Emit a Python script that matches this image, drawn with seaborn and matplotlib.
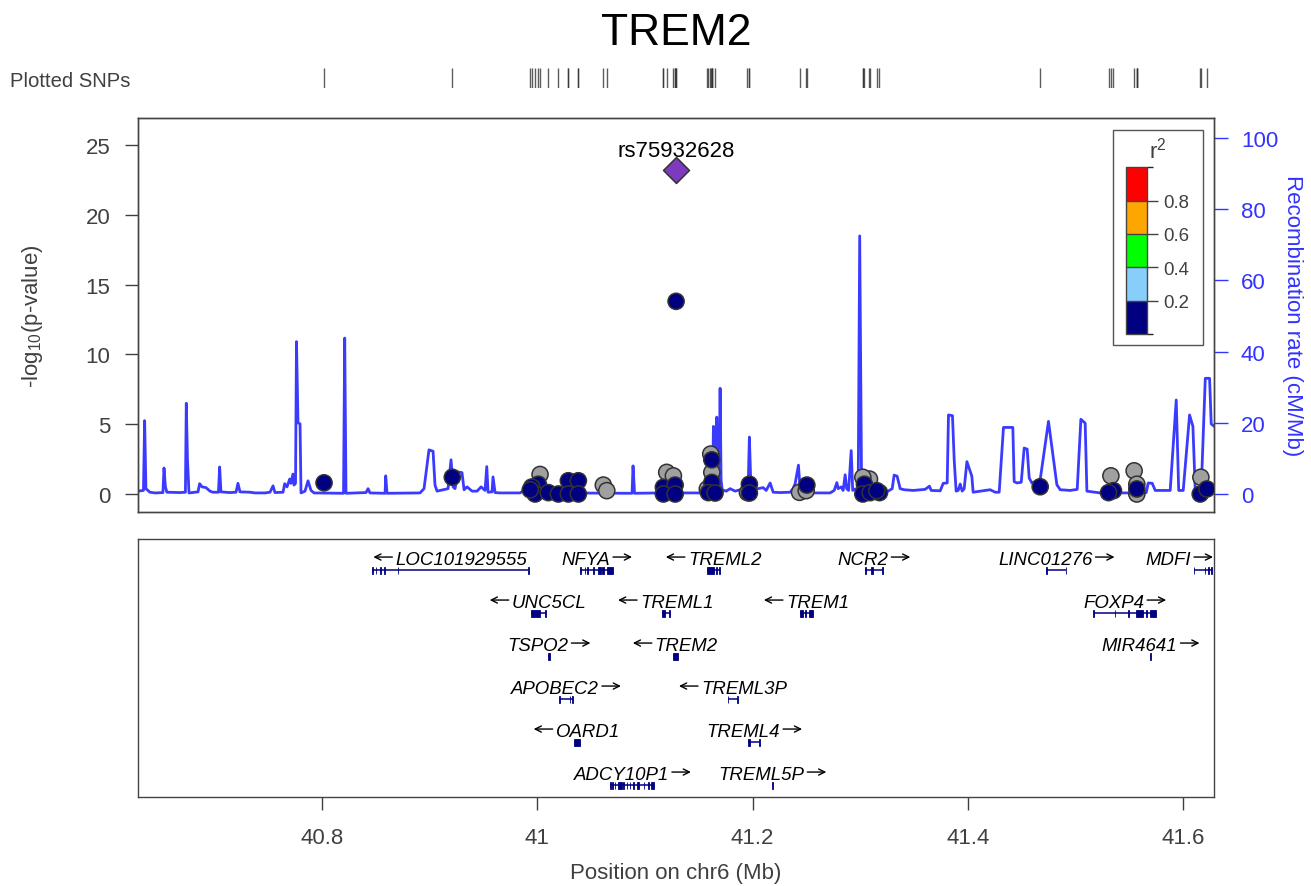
import numpy as np
import pandas as pd
import matplotlib
matplotlib.use("Agg")
import matplotlib.pyplot as plt
import seaborn as sns
from matplotlib.colors import ListedColormap, BoundaryNorm
from matplotlib.cm import ScalarMappable
from matplotlib.patches import Rectangle

# ---------------- data ----------------
title = "TREM2"
chrom = "chr6"
x_ticks = [40.8, 41.0, 41.2, 41.4, 41.6]
x_tick_labels = ["40.8", "41", "41.2", "41.4", "41.6"]
p_ticks = [0, 5, 10, 15, 20, 25]
recomb_ticks = [0, 20, 40, 60, 80, 100]

recomb_pos = [40.6290, 40.6318, 40.6341, 40.6352, 40.6364, 40.6383, 40.6401, 40.6448, 40.6522, 40.6532,
              40.6545, 40.6559, 40.6680, 40.6731, 40.6739, 40.6750, 40.6764, 40.6848, 40.6863, 40.6885,
              40.6922, 40.6959, 40.6987, 40.7038, 40.7049, 40.7061, 40.7145, 40.7201, 40.7219, 40.7238,
              40.7331, 40.7377, 40.7470, 40.7517, 40.7545, 40.7563, 40.7638, 40.7653, 40.7675, 40.7700,
              40.7712, 40.7730, 40.7740, 40.7754, 40.7763, 40.7777, 40.7796, 40.7805, 40.7842, 40.7870,
              40.7898, 40.7926, 40.8200, 40.8211, 40.8223, 40.8409, 40.8428, 40.8446, 40.8586, 40.8592,
              40.8604, 40.8911, 40.8948, 40.8976, 40.8994, 40.9032, 40.9050, 40.9069, 40.9171, 40.9199,
              40.9218, 40.9236, 40.9264, 40.9301, 40.9320, 40.9348, 40.9394, 40.9441, 40.9478, 40.9515,
              40.9531, 40.9543, 40.9580, 40.9589, 40.9608, 40.9654, 40.9840, 40.9905, 40.9933, 41.0147,
              41.0175, 41.0212, 41.0881, 41.0890, 41.0904, 41.1141, 41.1513, 41.1560, 41.1606, 41.1629,
              41.1637, 41.1648, 41.1662, 41.1668, 41.1676, 41.1690, 41.1699, 41.1708, 41.1718, 41.1755,
              41.1792, 41.1838, 41.1885, 41.1931, 41.1959, 41.1971, 41.1982, 41.1996, 41.2052, 41.2099,
              41.2127, 41.2164, 41.2192, 41.2257, 41.2350, 41.2377, 41.2396, 41.2427, 41.2443, 41.2554,
              41.2721, 41.2759, 41.2784, 41.2796, 41.2824, 41.2842, 41.2861, 41.2875, 41.2893, 41.2917,
              41.2931, 41.2963, 41.2982, 41.2996, 41.3014, 41.3093, 41.3205, 41.3260, 41.3298, 41.3316,
              41.3344, 41.3372, 41.3409, 41.3493, 41.3604, 41.3644, 41.3660, 41.3744, 41.3772, 41.3809,
              41.3821, 41.3858, 41.3874, 41.3892, 41.3911, 41.3930, 41.3948, 41.3967, 41.3992, 41.4038,
              41.4050, 41.4162, 41.4208, 41.4255, 41.4292, 41.4332, 41.4419, 41.4431, 41.4456, 41.4497,
              41.4524, 41.4552, 41.4571, 41.4596, 41.4673, 41.4750, 41.4828, 41.4859, 41.4952, 41.5017,
              41.5051, 41.5091, 41.5107, 41.5231, 41.5602, 41.5658, 41.5677, 41.5714, 41.5742, 41.5881,
              41.5937, 41.5960, 41.6002, 41.6061, 41.6092, 41.6114, 41.6169, 41.6207, 41.6247, 41.6262,
              41.6290]
recomb_rate = [0.8, 0.9, 1.0, 20.6, 1.5, 1.0, 0.5, 0.3, 0.4, 7.3,
               2.0, 0.5, 0.4, 0.5, 25.5, 9.8, 0.3, 0.6, 2.9, 2.0,
               1.8, 0.8, 0.5, 0.5, 7.6, 0.6, 0.4, 0.5, 3.0, 0.6,
               0.5, 0.3, 0.3, 0.5, 2.3, 0.4, 0.5, 2.9, 2.0, 4.2,
               3.0, 5.6, 2.5, 3.0, 42.8, 20.0, 19.7, 0.3, 0.8, 3.7,
               1.0, 0.3, 0.2, 43.8, 0.2, 0.4, 1.5, 0.3, 0.2, 5.1,
               0.2, 0.3, 1.5, 8.0, 12.4, 12.0, 2.5, 0.8, 1.5, 9.6,
               2.0, 1.5, 6.2, 6.0, 1.2, 2.0, 0.8, 0.8, 2.0, 1.0,
               7.7, 0.5, 0.6, 4.8, 0.4, 0.3, 0.3, 1.6, 0.5, 0.3,
               1.0, 0.3, 0.2, 7.9, 0.2, 0.3, 0.3, 0.6, 1.5, 2.0,
               19.0, 2.5, 2.0, 21.6, 3.0, 2.5, 29.7, 4.0, 1.2, 0.8,
               1.5, 0.8, 1.2, 0.7, 1.0, 16.0, 5.2, 1.0, 1.5, 1.8,
               1.0, 3.1, 0.5, 0.4, 0.5, 1.5, 2.9, 8.1, 1.0, 0.3,
               0.3, 1.0, 3.2, 1.5, 2.0, 1.0, 5.4, 1.5, 1.0, 12.2,
               1.0, 1.5, 1.0, 72.5, 0.3, 0.3, 0.6, 0.8, 1.5, 5.3,
               5.0, 1.5, 1.2, 1.0, 1.3, 2.2, 1.0, 0.9, 3.0, 3.1,
               22.2, 22.0, 9.6, 0.8, 1.0, 2.8, 0.8, 1.5, 9.1, 5.0,
               0.5, 1.0, 1.2, 0.5, 0.5, 18.7, 18.7, 3.5, 3.1, 3.3,
               12.9, 12.6, 4.5, 3.1, 4.0, 20.4, 2.6, 1.2, 1.0, 1.3,
               21.0, 19.9, 0.8, 0.3, 0.3, 0.4, 3.1, 3.0, 1.0, 1.0,
               26.4, 1.0, 1.0, 22.2, 19.0, 0.8, 0.8, 32.5, 32.5, 19.7,
               19.0]

NA = np.nan
snp_pos = [40.8019, 40.9211, 41.0026, 41.0010, 40.9949, 40.9980, 40.9935, 41.0103, 41.0196, 41.0289,
           41.0382, 41.0289, 41.0382, 41.0614, 41.0646, 41.1203, 41.1265, 41.1172, 41.1281, 41.1172,
           41.1281, 41.1290, 41.1612, 41.1622, 41.1622, 41.1622, 41.1606, 41.1580, 41.1590, 41.1652,
           41.1953, 41.1971, 41.1971, 41.2437, 41.2499, 41.2505, 41.3087, 41.3025, 41.3040, 41.3025,
           41.3093, 41.3180, 41.3155, 41.4673, 41.5330, 41.5354, 41.5308, 41.5546, 41.5571, 41.5571,
           41.5571, 41.6166, 41.6160, 41.6222]
snp_logp = [0.8, 1.2, 1.4, 0.7, 0.5, 0.0, 0.3, 0.1, 0.0, 0.95,
            0.95, 0.0, 0.0, 0.64, 0.24, 1.55, 1.3, 0.48, 0.64, 0.0,
            0.0, 13.8, 2.86, 2.45, 1.55, 0.83, 0.48, 0.36, 0.1, 0.07,
            0.1, 0.7, 0.07, 0.12, 0.24, 0.64, 1.07, 1.2, 0.7, 0.0,
            0.1, 0.1, 0.24, 0.52, 1.3, 0.24, 0.1, 1.66, 0.7, 0.36,
            0.0, 1.2, 0.0, 0.36]
snp_r2 = [0.1, 0.1, NA, 0.1, 0.1, 0.1, 0.1, 0.1, 0.1, 0.1,
          0.1, 0.1, 0.1, NA, NA, NA, NA, 0.1, 0.1, 0.1,
          0.1, 0.1, NA, 0.1, NA, 0.1, NA, NA, 0.1, 0.1,
          NA, 0.1, 0.1, NA, NA, 0.1, NA, NA, 0.1, 0.1,
          0.1, 0.1, 0.1, 0.1, NA, 0.1, 0.1, NA, NA, 0.1,
          NA, NA, 0.1, 0.1]

lead_snp = "rs75932628"
lead_pos = 41.1290
lead_logp = 23.2

ld_breaks = [0.0, 0.2, 0.4, 0.6, 0.8, 1.0]
ld_colors = ["#000080", "#87CEFA", "#00FF00", "#FFA500", "#FF0000"]
na_color = "#A0A0A0"
lead_color = "#7D3AC1"
recomb_color = "#3b3bff"
axis_blue = "#3333ff"
text_gray = "#404040"

gene_names = ["LOC101929555", "NFYA", "TREML2", "NCR2", "LINC01276", "MDFI",
              "UNC5CL", "TREML1", "TREM1", "FOXP4",
              "TSPO2", "TREM2", "MIR4641",
              "APOBEC2", "TREML3P",
              "OARD1", "TREML4",
              "ADCY10P1", "TREML5P"]
gene_start = [40.8465, 41.0401, 41.1576, 41.3044, 41.4731, 41.6098,
              40.9938, 41.1158, 41.2438, 41.5170,
              41.0098, 41.1258, 41.5695,
              41.0206, 41.1768,
              41.0337, 41.1962,
              41.0680, 41.2179]
gene_end = [40.9918, 41.0704, 41.1701, 41.3211, 41.4915, 41.6266,
            41.0078, 41.1231, 41.2565, 41.5746,
            41.0119, 41.1309, 41.5704,
            41.0328, 41.1868,
            41.0398, 41.2072,
            41.1086, 41.2190]
gene_strand = ["-", "+", "-", "+", "+", "+",
               "-", "-", "-", "+",
               "+", "-", "+",
               "+", "-",
               "-", "+",
               "+", "+"]
gene_row = [0, 0, 0, 0, 0, 0,
            1, 1, 1, 1,
            2, 2, 2,
            3, 3,
            4, 4,
            5, 5]
gene_exons = {
    "LOC101929555": [(40.8465, 40.8478), (40.8498, 40.8506), (40.8540, 40.8550), (40.8580, 40.8588),
                     (40.8702, 40.8708), (40.9914, 40.9918)],
    "NFYA": [(41.0399, 41.0405), (41.0440, 41.0446), (41.0466, 41.0472), (41.0518, 41.0523),
             (41.0568, 41.0592), (41.0602, 41.0616), (41.0650, 41.0704)],
    "TREML2": [(41.1576, 41.1640), (41.1660, 41.1670), (41.1690, 41.1701)],
    "NCR2": [(41.3044, 41.3050), (41.3100, 41.3115), (41.3205, 41.3211)],
    "LINC01276": [(41.4729, 41.4734), (41.4911, 41.4916)],
    "MDFI": [(41.6098, 41.6104), (41.6200, 41.6208), (41.6230, 41.6238), (41.6258, 41.6266)],
    "UNC5CL": [(40.9938, 41.0030), (41.0072, 41.0078)],
    "TREML1": [(41.1158, 41.1190), (41.1222, 41.1231)],
    "TREM1": [(41.2438, 41.2470), (41.2490, 41.2500), (41.2525, 41.2565)],
    "FOXP4": [(41.5168, 41.5173), (41.5366, 41.5371), (41.5493, 41.5498), (41.5562, 41.5630),
              (41.5660, 41.5665), (41.5694, 41.5746)],
    "TSPO2": [(41.0098, 41.0119)],
    "TREM2": [(41.1258, 41.1309)],
    "MIR4641": [(41.5697, 41.5703)],
    "APOBEC2": [(41.0206, 41.0211), (41.0300, 41.0306), (41.0320, 41.0328)],
    "TREML3P": [(41.1768, 41.1774), (41.1860, 41.1868)],
    "OARD1": [(41.0337, 41.0398)],
    "TREML4": [(41.1962, 41.1974), (41.2064, 41.2072)],
    "ADCY10P1": [(41.0680, 41.0686), (41.0694, 41.0702), (41.0720, 41.0727), (41.0752, 41.0790),
                 (41.0800, 41.0808), (41.0830, 41.0836), (41.0860, 41.0866), (41.0888, 41.0896),
                 (41.0930, 41.0950), (41.0990, 41.0996), (41.1030, 41.1036), (41.1060, 41.1086)],
    "TREML5P": [(41.2182, 41.2188)],
}

# ---------------- style ----------------
sns.set_theme(style="white")
plt.rcParams["font.family"] = ["Liberation Sans", "DejaVu Sans"]
plt.rcParams["mathtext.default"] = "regular"

W, H = 1311, 887
fig = plt.figure(figsize=(W / 100, H / 100), dpi=100)


def box(l, t, r, b):
    return [l / W, 1 - b / H, (r - l) / W, (b - t) / H]


XLIM = (40.62904, 41.62880)

# ---------------- main association panel ----------------
ax = fig.add_axes(box(138, 119, 1214, 513))
ax2 = ax.twinx()
ax.set_zorder(ax2.get_zorder() + 1)
ax.patch.set_visible(False)

recomb_df = pd.DataFrame({"pos": recomb_pos, "rate": recomb_rate})
sns.lineplot(data=recomb_df, x="pos", y="rate", ax=ax2, color=recomb_color,
             lw=2.0, estimator=None, sort=False)

snp_df = pd.DataFrame({"pos": snp_pos, "logp": snp_logp, "r2": snp_r2})
bin_idx = np.clip(np.digitize(snp_df["r2"].fillna(-1), ld_breaks[1:-1]), 0, len(ld_colors) - 1)
snp_df["ld"] = np.where(snp_df["r2"].isna(), "NA", [f"b{i}" for i in bin_idx])
snp_df["rank"] = np.where(snp_df["r2"].isna(), -1, bin_idx)
snp_df = snp_df.sort_values("rank", kind="stable")
palette = {"NA": na_color}
palette.update({f"b{i}": c for i, c in enumerate(ld_colors)})
sns.scatterplot(data=snp_df, x="pos", y="logp", hue="ld", palette=palette, s=135,
                edgecolor="#333333", linewidth=1.1, legend=False, ax=ax, zorder=3)
sns.scatterplot(x=[lead_pos], y=[lead_logp], marker="D", s=175, color=lead_color,
                edgecolor="#333333", linewidth=1.1, legend=False, ax=ax, zorder=4)
ax.annotate(lead_snp, (lead_pos, lead_logp), xytext=(0, 10), textcoords="offset points",
            ha="center", va="baseline", fontsize=16, color="black")

ax.set_xlim(*XLIM)
ax.set_ylim(-1.289, 26.93)
ax2.set_ylim(-5.056, 105.62)
ax.set_xticks([])
ax.set_yticks(p_ticks)
ax.set_yticklabels([str(t) for t in p_ticks])
ax.tick_params(axis="y", left=True, direction="out", length=9.4, width=1, color=text_gray,
               labelsize=16, labelcolor=text_gray, pad=10.5)
ax2.set_yticks(recomb_ticks)
ax2.set_yticklabels([str(t) for t in recomb_ticks])
ax2.tick_params(axis="y", right=True, direction="out", length=10, width=1, color=axis_blue,
                labelsize=16, labelcolor=axis_blue, pad=9.4)
ax.set_xlabel("")
ax2.set_xlabel("")
ax.set_ylabel("-log$_{10}$(p-value)", fontsize=16, color=text_gray)
ax.yaxis.set_label_coords(-0.0976, 0.5)
ax.yaxis.label.set_verticalalignment("center")
ax2.set_ylabel("Recombination rate (cM/Mb)", fontsize=16, color=axis_blue, rotation=270)
ax2.yaxis.set_label_coords(1.0734, 0.5)
ax2.yaxis.label.set_verticalalignment("center")
for a in (ax, ax2):
    for sp in a.spines.values():
        sp.set_color("#444444")
        sp.set_linewidth(1.0)

# ---------------- plotted SNP rug ----------------
ax_r = fig.add_axes(box(138, 69, 1214, 89))
sns.rugplot(x=snp_pos + [lead_pos], ax=ax_r, height=1, color="#333333", lw=1.1, alpha=0.8,
            expand_margins=False)
ax_r.set_xlim(*XLIM)
ax_r.set_ylim(0, 1)
ax_r.axis("off")
fig.text(10 / W, 1 - 87 / H, "Plotted SNPs", fontsize=14.6, color=text_gray, va="baseline", ha="left")

# ---------------- title ----------------
fig.text(676 / W, 1 - 45 / H, title, fontsize=32, ha="center", va="baseline", color="black")

# ---------------- gene panel ----------------
ax_g = fig.add_axes(box(138, 540, 1214, 798))
ax_g.set_xlim(*XLIM)
ax_g.set_ylim(5 + 12 / 43, -31 / 43)
gene_color = "#000080"
exon_h = 7 / 43
gene_labels = []
for name, s, e, st, r in zip(gene_names, gene_start, gene_end, gene_strand, gene_row):
    ax_g.plot([s, e], [r, r], color=gene_color, lw=1.1, solid_capstyle="butt")
    for (xs, xe) in gene_exons[name]:
        w = max(xe - xs, 0.0006)
        ax_g.add_patch(Rectangle((xs, r - exon_h / 2), w, exon_h, facecolor=gene_color,
                                 edgecolor=gene_color, lw=0.6))
    t_name = ax_g.text((s + e) / 2, r - 0.15, name, ha="left", va="baseline", fontsize=13.4,
                       style="italic", color="black")
    gene_labels.append(((s + e) / 2, r - 0.15, st, t_name))

ax_g.set_yticks([])
ax_g.set_xticks(x_ticks)
ax_g.set_xticklabels(x_tick_labels)
ax_g.tick_params(axis="x", bottom=True, direction="out", length=9.4, width=1, color=text_gray,
                 labelsize=16, labelcolor=text_gray, pad=12)
ax_g.set_xlabel(f"Position on {chrom} (Mb)", fontsize=16, color=text_gray)
ax_g.xaxis.set_label_coords(0.5, (798 - 879) / 258)
ax_g.xaxis.label.set_verticalalignment("baseline")
for sp in ax_g.spines.values():
    sp.set_color("#444444")
    sp.set_linewidth(1.0)

# lay out gene labels: strand arrow + name centred over the gene, kept inside the panel
fig.canvas.draw()
renderer = fig.canvas.get_renderer()
gbb = ax_g.get_window_extent(renderer)
to_data = ax_g.transData.inverted()
arrow_len = 19.0
gap = 3.0
for cx, by, st, t_name in gene_labels:
    wn = t_name.get_window_extent(renderer).width
    total = wn + arrow_len + gap
    cpx, bpy = ax_g.transData.transform((cx, by))
    x0 = cpx - total / 2
    x0 = min(x0, gbb.x1 - 1 - total)
    x0 = max(x0, gbb.x0 + 1)
    ay = bpy + 6.5
    if st == "-":
        xn = x0 + arrow_len + gap
        head, tail = (x0, ay), (x0 + arrow_len, ay)
    else:
        xn = x0
        head, tail = (x0 + wn + gap + arrow_len, ay), (x0 + wn + gap, ay)
    t_name.set_x(to_data.transform((xn, bpy))[0])
    ax_g.annotate("", xy=tuple(to_data.transform(head)), xytext=tuple(to_data.transform(tail)),
                  xycoords="data", textcoords="data",
                  arrowprops=dict(arrowstyle="->", color="black", lw=1.0, shrinkA=0, shrinkB=0,
                                  mutation_scale=11))

# ---------------- LD legend ----------------
frame = Rectangle((1113.3 / W, 1 - 346 / H), (1202.7 - 1113.3) / W, (346 - 130.7) / H,
                  transform=fig.transFigure, facecolor="white", edgecolor="#555555", lw=1.0, zorder=10)
fig.add_artist(frame)
cax = fig.add_axes(box(1125.7, 168.3, 1147, 335))
cax.set_zorder(11)
cmap = ListedColormap(ld_colors)
norm = BoundaryNorm(ld_breaks, cmap.N)
cb = fig.colorbar(ScalarMappable(norm=norm, cmap=cmap), cax=cax, ticks=ld_breaks[1:-1], drawedges=True)
cb.outline.set_edgecolor("#444444")
cb.outline.set_linewidth(1.0)
cb.dividers.set_color("#444444")
cb.dividers.set_linewidth(1.0)
cax.set_yticklabels([f"{b:.1f}" for b in ld_breaks[1:-1]])
cax.tick_params(length=8.0, width=1, color="#444444", labelsize=13.4, labelcolor=text_gray, pad=4)
t_r2 = fig.text(1157.7 / W, 1 - 150.7 / H, "r$^2$", fontsize=16, ha="center", va="center",
                color=text_gray)
t_r2.set_zorder(12)

fig.savefig("out.png", dpi=100)
